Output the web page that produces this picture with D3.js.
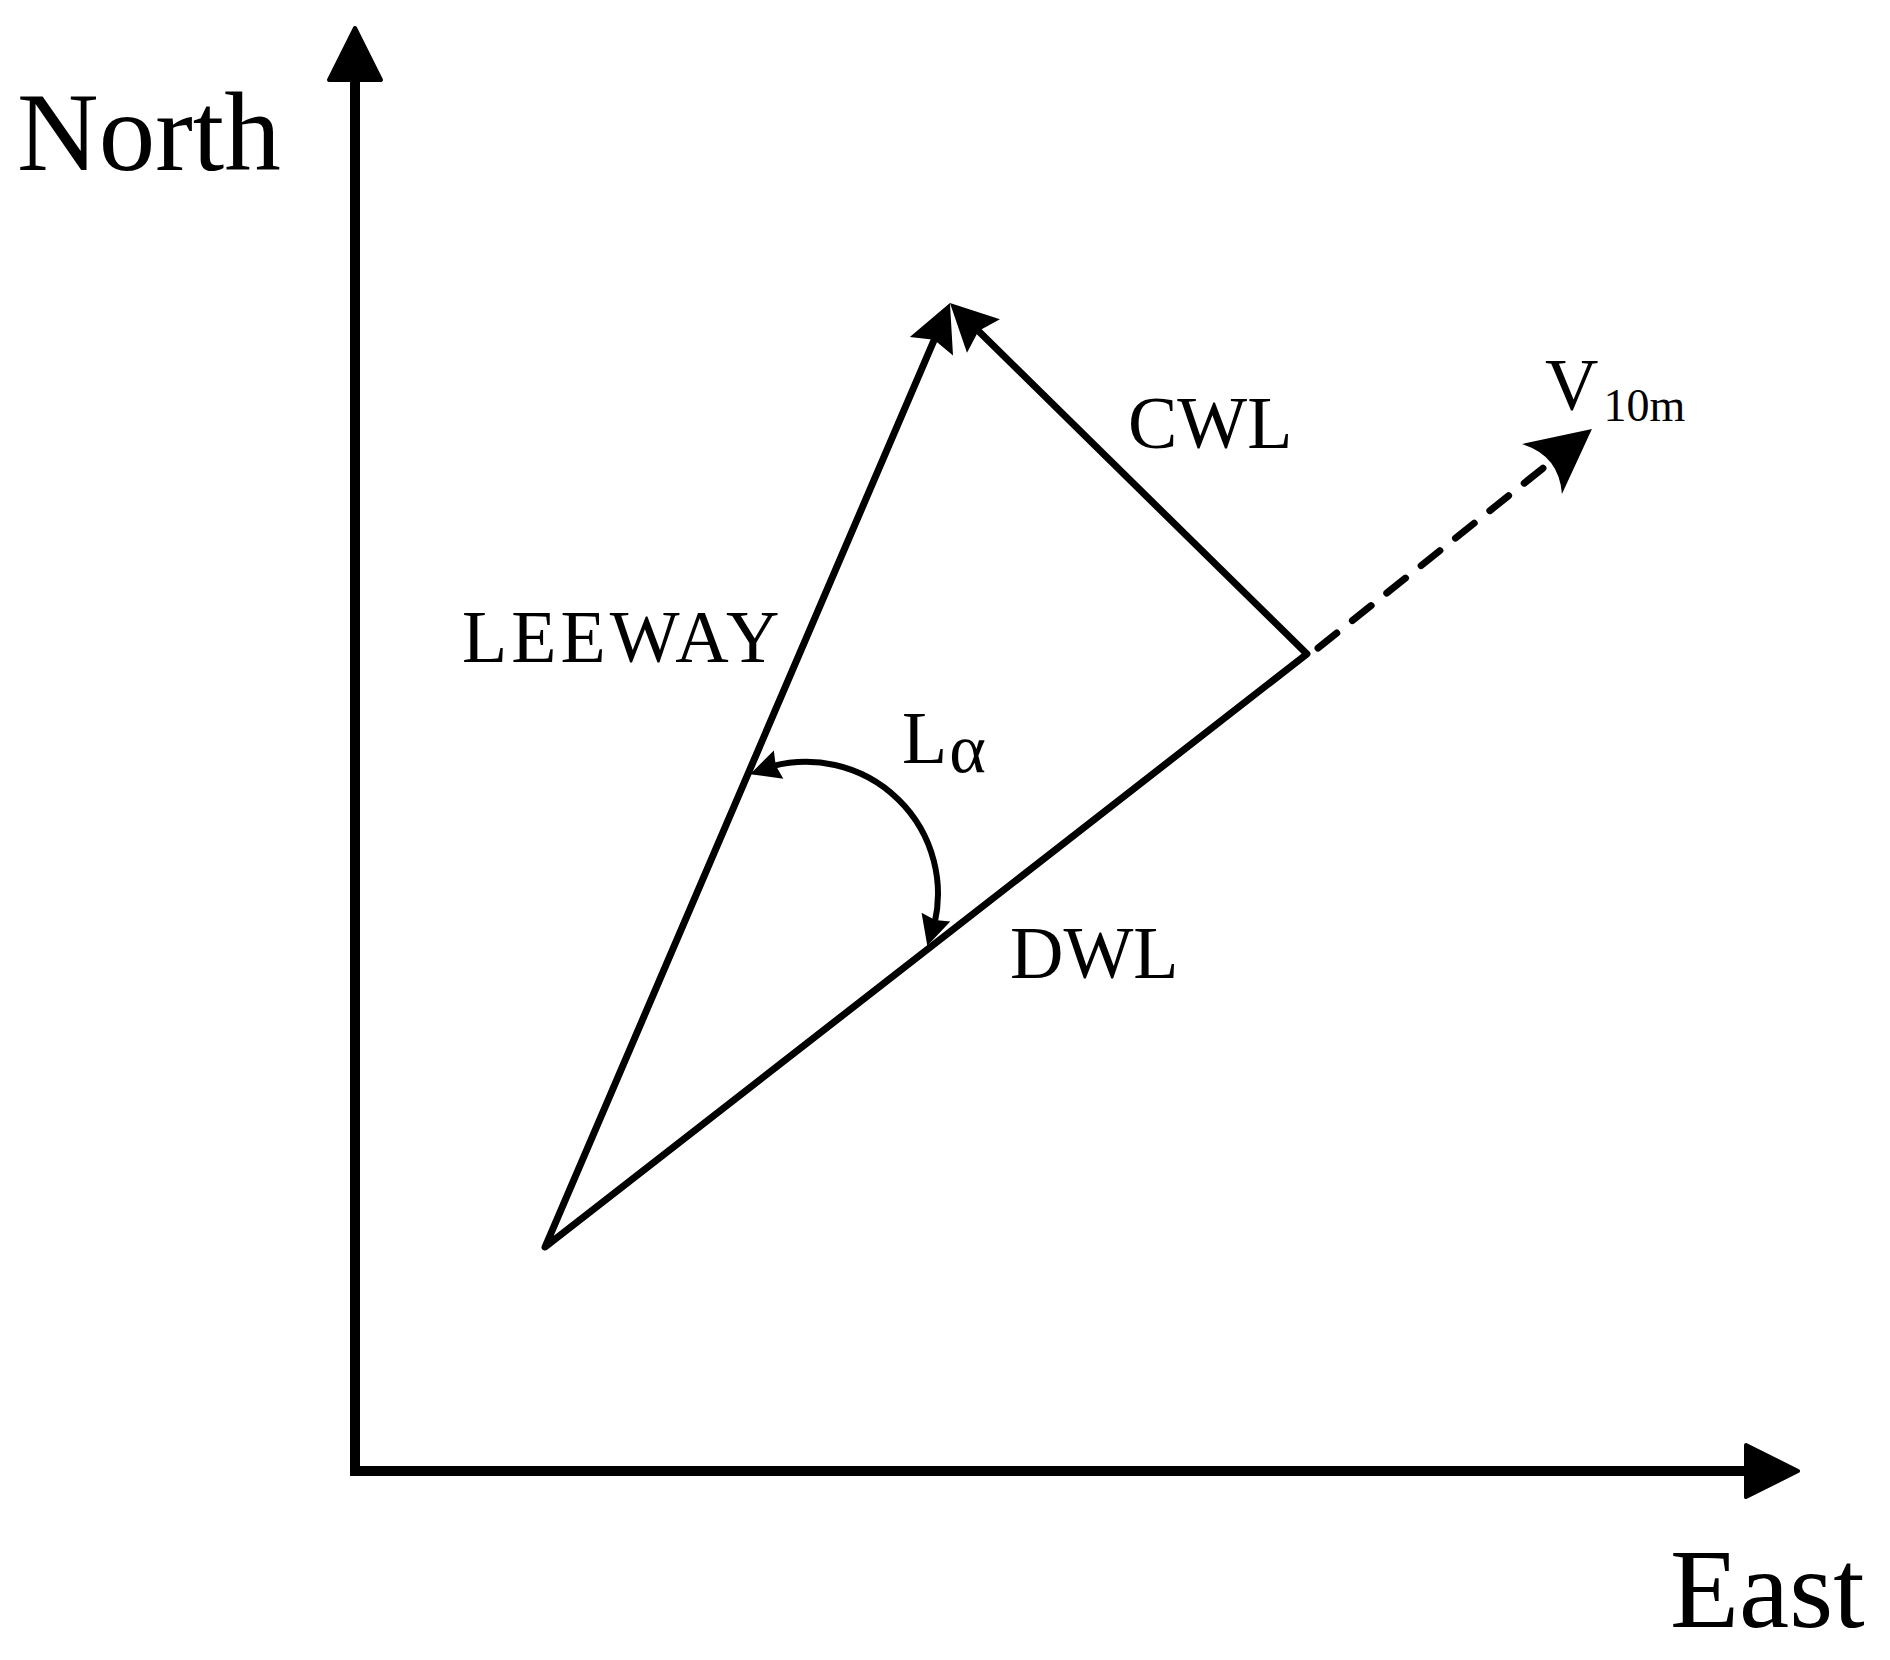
<!DOCTYPE html>
<html>
<head>
<meta charset="utf-8">
<script src="https://cdn.jsdelivr.net/npm/d3@7"></script>
<style>
  body { margin: 0; background: #fff; }
  text { font-family: "Liberation Serif", "Times New Roman", serif; fill: #000; }
</style>
</head>
<body>
<script>
// axis extent in diagram units (the arrow tips sit at 100)
var axisExtent = [0, 100];

// vector end points, [east, north] in diagram units
var origin = [13.17, 15.52];
var leewayTip = [41.23, 80.94];
var dwlEnd = [65.97, 56.62];
var windStart = [66.74, 57.03];
var windTip = [85.72, 72.21];

// leeway angle arc: centre, radius, start / end angle (deg, counter-clockwise from east)
var arcCentre = [31.25, 40.0];
var arcRadius = 9.15;
var arcAngles = [115, -23.2];

// labels and where they sit (left end of the baseline, diagram units)
var labelNames = ["North", "East", "LEEWAY", "CWL", "DWL"];
var labelPos = [[-23.42, 90.16], [91.13, -10.81], [7.42, 56.06], [53.57, 70.89], [45.39, 34.16]];
var labelBig = [true, true, false, false, false];

var angleLabel = ["L", "\u03b1"];
var angleLabelPos = [37.91, 49.06];
var windLabel = ["V", "10m"];
var windLabelPos = [82.47, 73.53];

var width = 1890,
    height = 1660;

var x = d3.scaleLinear()
          .domain(axisExtent)
          .range([355, 1798]);
var y = d3.scaleLinear()
          .domain(axisExtent)
          .range([1471, 28]);

var svg = d3.select("body")
            .append("svg")
            .attr("width", width)
            .attr("height", height);

function px(p) { return [x(p[0]), y(p[1])]; }

// point that lies dist pixels back from tip, towards from
function back(tip, from, dist) {
  var dx = tip[0] - from[0], dy = tip[1] - from[1];
  var d = Math.hypot(dx, dy);
  return [tip[0] - dx / d * dist, tip[1] - dy / d * dist];
}

// arrow head path, tip in pixels, pointing away from "from"
function head(tip, from, len, halfW, notch, curved) {
  var dx = tip[0] - from[0], dy = tip[1] - from[1];
  var d = Math.hypot(dx, dy);
  var ux = dx / d, uy = dy / d, nx = -uy, ny = ux;
  var bx = tip[0] - ux * len, by = tip[1] - uy * len;
  var p = d3.path();
  p.moveTo(tip[0], tip[1]);
  p.lineTo(bx + nx * halfW, by + ny * halfW);
  if (curved) {
    p.quadraticCurveTo(tip[0] - ux * (len - 2 * notch), tip[1] - uy * (len - 2 * notch),
                       bx - nx * halfW, by - ny * halfW);
  } else {
    p.lineTo(tip[0] - ux * (len - notch), tip[1] - uy * (len - notch));
    p.lineTo(bx - nx * halfW, by - ny * halfW);
  }
  p.closePath();
  return p.toString();
}

// ---- axes ----
var o = px([axisExtent[0], axisExtent[0]]);
var northTip = px([axisExtent[0], axisExtent[1]]);
var eastTip = px([axisExtent[1], axisExtent[0]]);

svg.append("path")
   .attr("d", d3.line()([back(northTip, o, 45), o, back(eastTip, o, 45)]))
   .attr("fill", "none")
   .attr("stroke", "#000")
   .attr("stroke-width", 10)
   .attr("stroke-linejoin", "miter");

svg.selectAll(".axis-head")
   .data([northTip, eastTip])
   .enter().append("path")
   .attr("class", "axis-head")
   .attr("d", function(t) { return head(t, o, 52, 26, 0, false); })
   .attr("fill", "#000")
   .attr("stroke", "#000")
   .attr("stroke-width", 4)
   .attr("stroke-linejoin", "round");

// ---- triangle of vectors ----
var S = px(origin), T = px(leewayTip), D = px(dwlEnd);

svg.append("path")
   .attr("d", d3.line()([back(T, S, 40), S, D, back(T, D, 40)]))
   .attr("fill", "none")
   .attr("stroke", "#000")
   .attr("stroke-width", 7)
   .attr("stroke-linejoin", "round")
   .attr("stroke-linecap", "round");

svg.selectAll(".vec-head")
   .data([S, D])
   .enter().append("path")
   .attr("class", "vec-head")
   .attr("d", function(f) { return head(T, f, 47, 23.5, 7, false); })
   .attr("fill", "#000");

// ---- wind direction (dashed) ----
var W0 = px(windStart), W = px(windTip);

svg.append("path")
   .attr("d", d3.line()([W0, back(W, W0, 50)]))
   .attr("fill", "none")
   .attr("stroke", "#000")
   .attr("stroke-width", 7)
   .attr("stroke-linecap", "round")
   .attr("stroke-dasharray", "24,20");

svg.append("path")
   .attr("d", head(W, W0, 64, 32, 11, true))
   .attr("fill", "#000");

// ---- leeway angle arc ----
var C = px(arcCentre);
var r = x(arcRadius) - x(0);
var a0 = -arcAngles[0] * Math.PI / 180,
    a1 = -arcAngles[1] * Math.PI / 180;
var arcHead = 30;
var da = arcHead / r;

function onArc(a) { return [C[0] + r * Math.cos(a), C[1] + r * Math.sin(a)]; }

var arcPath = d3.path();
arcPath.arc(C[0], C[1], r, a0 + da * 0.8, a1 - da * 0.8, false);

svg.append("path")
   .attr("d", arcPath.toString())
   .attr("fill", "none")
   .attr("stroke", "#000")
   .attr("stroke-width", 6);

svg.selectAll(".arc-head")
   .data([[a0, a0 + da], [a1, a1 - da]])
   .enter().append("path")
   .attr("class", "arc-head")
   .attr("d", function(a) { return head(onArc(a[0]), onArc(a[1]), arcHead, 15, 3, false); })
   .attr("fill", "#000");

// ---- labels ----
svg.selectAll(".label")
   .data(labelNames)
   .enter().append("text")
   .attr("class", "label")
   .attr("x", function(d, i) { return x(labelPos[i][0]); })
   .attr("y", function(d, i) { return y(labelPos[i][1]); })
   .style("font-size", function(d, i) { return labelBig[i] ? "113px" : "74px"; })
   .style("letter-spacing", function(d) { return d == "LEEWAY" ? "4px" : null; })
   .text(function(d) { return d; });

var la = svg.append("text")
            .attr("x", x(angleLabelPos[0]))
            .attr("y", y(angleLabelPos[1]))
            .style("font-size", "74px")
            .text(angleLabel[0]);
la.append("tspan")
  .attr("dx", 2)
  .attr("dy", 9)
  .style("font-size", "70px")
  .text(angleLabel[1]);

var lv = svg.append("text")
            .attr("x", x(windLabelPos[0]))
            .attr("y", y(windLabelPos[1]))
            .style("font-size", "74px")
            .text(windLabel[0]);
lv.append("tspan")
  .attr("dx", 5)
  .attr("dy", 11)
  .style("font-size", "46px")
  .text(windLabel[1]);
</script>
</body>
</html>
